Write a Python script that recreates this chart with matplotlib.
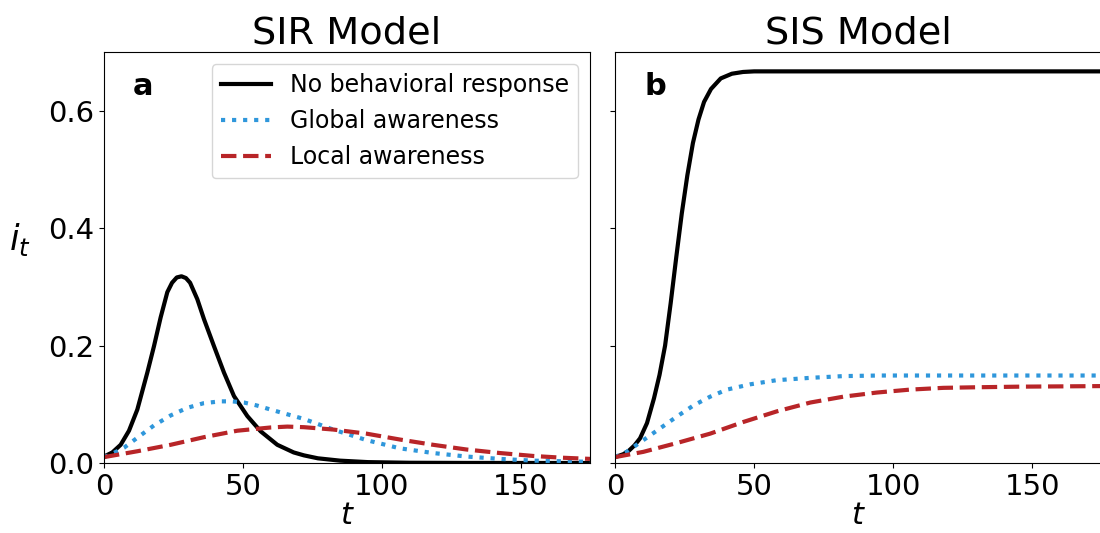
import matplotlib
matplotlib.use("Agg")
import matplotlib.pyplot as plt

# values
# SIR model
sir_t_none = [0, 3, 6, 9, 12, 15.6, 18, 20.4, 22.8, 24.5, 26.2, 27.9, 29.5, 31, 33.6, 36, 39.6, 43.2, 46.8, 51.6, 56.4, 62.4, 68.3, 72, 77, 85, 95, 110, 130, 175]
sir_none = [0.011, 0.018, 0.031, 0.055, 0.091, 0.154, 0.199, 0.248, 0.291, 0.307, 0.316, 0.318, 0.315, 0.307, 0.279, 0.245, 0.199, 0.154, 0.114, 0.080, 0.054, 0.031, 0.018, 0.013, 0.008, 0.004, 0.0015, 0.0004, 0.0001, 0.0]

sir_t_global = [0, 3.5, 7.2, 12, 18, 24, 30, 36, 42, 46, 50.4, 55, 60, 66, 72, 82.5, 94.5, 106.5, 118.5, 130.5, 142.5, 154.5, 165, 175]
sir_global = [0.01, 0.017, 0.026, 0.043, 0.064, 0.081, 0.094, 0.102, 0.105, 0.105, 0.103, 0.098, 0.091, 0.083, 0.075, 0.057, 0.039, 0.025, 0.017, 0.011, 0.007, 0.004, 0.003, 0.002]

sir_t_local = [0, 12, 24, 36, 48, 60, 66, 72, 82.5, 94.5, 106.5, 118.5, 130.5, 142.5, 154.5, 165, 175]
sir_local = [0.01, 0.02, 0.031, 0.044, 0.055, 0.0605, 0.062, 0.061, 0.057, 0.05, 0.04, 0.031, 0.023, 0.017, 0.012, 0.009, 0.007]

# SIS model
sis_t_none = [0, 3, 5, 7, 9, 11.5, 14, 16, 18, 20, 22, 24, 26, 28, 30, 32, 34.5, 38, 42, 46, 50, 60, 175]
sis_none = [0.01, 0.015, 0.021, 0.03, 0.042, 0.068, 0.11, 0.15, 0.2, 0.272, 0.35, 0.425, 0.49, 0.545, 0.585, 0.615, 0.637, 0.655, 0.663, 0.666, 0.667, 0.667, 0.667]

sis_t_global = [0, 4.2, 10.2, 16.2, 22.2, 28.2, 34.2, 40.2, 48.6, 58, 70, 82, 95, 110, 175]
sis_global = [0.01, 0.019, 0.039, 0.059, 0.079, 0.098, 0.113, 0.125, 0.134, 0.141, 0.145, 0.148, 0.149, 0.149, 0.149]

sis_t_local = [0, 10.2, 22.2, 34.2, 46.2, 58.2, 70.2, 82.1, 94.1, 106, 118, 130, 145, 175]
sis_local = [0.01, 0.019, 0.034, 0.05, 0.07, 0.088, 0.103, 0.113, 0.12, 0.125, 0.128, 0.129, 0.130, 0.131]

labels = ["No behavioral response", "Global awareness", "Local awareness"]
blue = "#2f97db"
red = "#b82528"

fig = plt.figure(figsize=(11, 5.33), dpi=100)
ax1 = fig.add_axes([104/1100, 70/533, 486/1100, 411/533])
ax2 = fig.add_axes([615/1100, 70/533, 487/1100, 411/533], sharey=ax1)

ax1.plot(sir_t_none, sir_none, color="black", lw=3, label=labels[0])
ax1.plot(sir_t_global, sir_global, color=blue, lw=3, ls=":", label=labels[1])
ax1.plot(sir_t_local, sir_local, color=red, lw=3, ls="--", label=labels[2])

ax2.plot(sis_t_none, sis_none, color="black", lw=3)
ax2.plot(sis_t_global, sis_global, color=blue, lw=3, ls=":")
ax2.plot(sis_t_local, sis_local, color=red, lw=3, ls="--")

for ax, title, tag in [(ax1, "SIR Model", "a"), (ax2, "SIS Model", "b")]:
    ax.set_xlim(0, 175)
    ax.set_ylim(0, 0.7)
    ax.set_xticks([0, 50, 100, 150])
    ax.set_yticks([0.0, 0.2, 0.4, 0.6])
    ax.tick_params(labelsize=21)
    ax.set_title(title, fontsize=27.5, pad=6)
    ax.set_xlabel("$t$", fontsize=22, labelpad=0)
    ax.text(0.06, 0.915, tag, transform=ax.transAxes, fontsize=22, fontweight="bold", va="center")

ax2.tick_params(labelleft=False)
ax1.set_ylabel("$i_t$", fontsize=25, rotation=0, labelpad=20)
ax1.legend(loc="upper right", fontsize=17, handlelength=2.1)

fig.savefig("out.png", dpi=100)
